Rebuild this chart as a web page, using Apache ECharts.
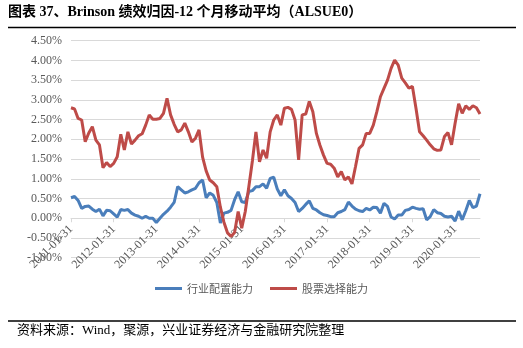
<!DOCTYPE html>
<html>
<head>
<meta charset="utf-8">
<script src="https://cdn.jsdelivr.net/npm/echarts@6/dist/echarts.min.js"></script>
<style>
  html, body { margin: 0; padding: 0; background: #fff; }
  #chart { width: 523px; height: 348px; }
</style>
</head>
<body>
<div id="chart"></div>
<script>
// Month-end dates, Jan 2011 - Aug 2020
const categories = [
  '2011-01-31','2011-02-28','2011-03-31','2011-04-30','2011-05-31','2011-06-30','2011-07-31','2011-08-31','2011-09-30','2011-10-31','2011-11-30','2011-12-31',
  '2012-01-31','2012-02-29','2012-03-31','2012-04-30','2012-05-31','2012-06-30','2012-07-31','2012-08-31','2012-09-30','2012-10-31','2012-11-30','2012-12-31',
  '2013-01-31','2013-02-28','2013-03-31','2013-04-30','2013-05-31','2013-06-30','2013-07-31','2013-08-31','2013-09-30','2013-10-31','2013-11-30','2013-12-31',
  '2014-01-31','2014-02-28','2014-03-31','2014-04-30','2014-05-31','2014-06-30','2014-07-31','2014-08-31','2014-09-30','2014-10-31','2014-11-30','2014-12-31',
  '2015-01-31','2015-02-28','2015-03-31','2015-04-30','2015-05-31','2015-06-30','2015-07-31','2015-08-31','2015-09-30','2015-10-31','2015-11-30','2015-12-31',
  '2016-01-31','2016-02-29','2016-03-31','2016-04-30','2016-05-31','2016-06-30','2016-07-31','2016-08-31','2016-09-30','2016-10-31','2016-11-30','2016-12-31',
  '2017-01-31','2017-02-28','2017-03-31','2017-04-30','2017-05-31','2017-06-30','2017-07-31','2017-08-31','2017-09-30','2017-10-31','2017-11-30','2017-12-31',
  '2018-01-31','2018-02-28','2018-03-31','2018-04-30','2018-05-31','2018-06-30','2018-07-31','2018-08-31','2018-09-30','2018-10-31','2018-11-30','2018-12-31',
  '2019-01-31','2019-02-28','2019-03-31','2019-04-30','2019-05-31','2019-06-30','2019-07-31','2019-08-31','2019-09-30','2019-10-31','2019-11-30','2019-12-31',
  '2020-01-31','2020-02-29','2020-03-31','2020-04-30','2020-05-31','2020-06-30','2020-07-31','2020-08-31'
];

// 行业配置能力 (%), 12-month moving average
const industryAllocation = [
  0.52,0.55,0.45,0.25,0.30,0.31,0.23,0.17,0.23,0.06,0.20,0.19,
  0.11,0.03,0.22,0.20,0.22,0.13,0.08,0.05,0.00,0.05,0.00,0.00,
  -0.11,0.00,0.10,0.18,0.28,0.40,0.80,0.72,0.64,0.67,0.72,0.76,
  0.90,0.97,0.52,0.64,0.58,0.40,-0.12,0.13,0.15,0.20,0.47,0.67,
  0.42,0.40,0.68,0.70,0.80,0.80,0.87,0.76,1.01,1.04,0.74,0.57,
  0.72,0.57,0.50,0.40,0.17,0.25,0.35,0.44,0.25,0.21,0.14,0.09,
  0.07,0.04,0.04,0.14,0.17,0.22,0.41,0.31,0.23,0.19,0.17,0.25,
  0.21,0.28,0.27,0.13,0.38,0.30,0.03,-0.02,0.08,0.08,0.20,0.22,
  0.28,0.25,0.23,0.24,-0.04,0.04,0.22,0.14,0.12,0.05,0.03,0.05,
  -0.07,0.18,-0.04,0.19,0.45,0.27,0.31,0.62
];

// 股票选择能力 (%), 12-month moving average
const stockSelection = [
  2.80,2.77,2.53,2.49,1.94,2.16,2.32,1.98,1.86,1.28,1.41,1.31,
  1.39,1.56,2.13,1.73,2.19,1.88,1.98,2.09,2.14,2.36,2.62,2.51,
  2.51,2.53,2.66,3.04,2.62,2.38,2.19,2.24,2.41,2.19,1.93,2.03,
  2.24,1.55,1.20,0.97,0.90,0.80,0.28,-0.10,-0.37,-0.46,-0.36,0.17,
  -0.25,0.17,0.80,1.45,2.19,1.43,1.73,1.52,2.19,2.49,2.62,2.36,
  2.79,2.81,2.76,2.49,1.48,2.62,2.64,2.96,2.70,2.15,1.85,1.60,
  1.39,1.37,1.27,1.05,1.18,0.97,1.05,0.87,1.31,1.77,1.86,2.15,
  2.15,2.36,2.70,3.08,3.29,3.50,3.80,4.01,3.88,3.55,3.43,3.30,
  3.34,2.79,2.19,2.09,1.98,1.86,1.76,1.72,1.73,2.07,2.17,1.86,
  2.41,2.90,2.66,2.85,2.76,2.85,2.80,2.64
];

const seriesNames = ['行业配置能力', '股票选择能力'];
const titleText = '图表 37、Brinson 绩效归因-12 个月移动平均（ALSUE0）';
const sourceText = '资料来源：Wind，聚源，兴业证券经济与金融研究院整理';

const serif = '"Liberation Serif", "Noto Sans CJK SC", serif';
const grey = '#595959';
const gridGrey = '#d9d9d9';

// Plot box and value range; the category axis is lifted to sit on the 0% line
const plotTop = 40.7;
const plotBottom = 257.7;
const yMin = -1;
const yMax = 4.5;
const zeroOffset = -(plotBottom - plotTop) * (0 - yMin) / (yMax - yMin);

const chart = echarts.init(document.getElementById('chart'), null, { renderer: 'canvas' });

chart.setOption({
  animation: false,
  backgroundColor: '#ffffff',
  grid: { left: 71, right: 43, top: plotTop, bottom: 348 - plotBottom, containLabel: false },
  xAxis: {
    type: 'category',
    data: categories,
    boundaryGap: false,
    position: 'bottom',
    offset: zeroOffset,
    axisLine: { onZero: false, lineStyle: { color: gridGrey, width: 1 } },
    axisTick: { show: true, interval: 11, length: 4, lineStyle: { color: gridGrey } },
    axisLabel: {
      interval: 11,
      rotate: 45,
      margin: 9,
      color: grey,
      fontSize: 12,
      fontFamily: serif
    },
    splitLine: { show: false }
  },
  yAxis: {
    type: 'value',
    min: yMin,
    max: yMax,
    interval: 0.5,
    axisLine: { show: false },
    axisTick: { show: false },
    axisLabel: {
      margin: 9,
      color: grey,
      fontSize: 12,
      fontFamily: serif,
      formatter: v => v.toFixed(2) + '%'
    },
    splitLine: { lineStyle: { color: gridGrey, width: 1 } }
  },
  legend: {
    data: seriesNames,
    left: 'center',
    top: 278,
    icon: 'rect',
    itemWidth: 27,
    itemHeight: 3,
    itemGap: 17,
    textStyle: { color: grey, fontSize: 11, fontFamily: '"Noto Sans CJK SC", sans-serif' }
  },
  series: [
    {
      name: seriesNames[0],
      type: 'line',
      data: industryAllocation,
      symbol: 'none',
      color: '#4a7ebb',
      lineStyle: { width: 3, color: '#4a7ebb' },
      z: 3
    },
    {
      name: seriesNames[1],
      type: 'line',
      data: stockSelection,
      symbol: 'none',
      color: '#be4b48',
      lineStyle: { width: 3, color: '#be4b48' },
      z: 4
    }
  ],
  graphic: [
    {
      type: 'text',
      left: 8,
      top: 5,
      style: {
        text: titleText,
        font: 'bold 14px ' + serif,
        fill: '#000'
      }
    },
    {
      type: 'line',
      shape: { x1: 8, y1: 27.5, x2: 516, y2: 27.5 },
      style: { stroke: '#000', lineWidth: 1.5 }
    },
    {
      type: 'line',
      shape: { x1: 8, y1: 321, x2: 516, y2: 321 },
      style: { stroke: '#000', lineWidth: 1.5 }
    },
    {
      type: 'text',
      left: 17,
      top: 324,
      style: {
        text: sourceText,
        font: '13px ' + serif,
        fill: '#000'
      }
    }
  ]
});
</script>
</body>
</html>
